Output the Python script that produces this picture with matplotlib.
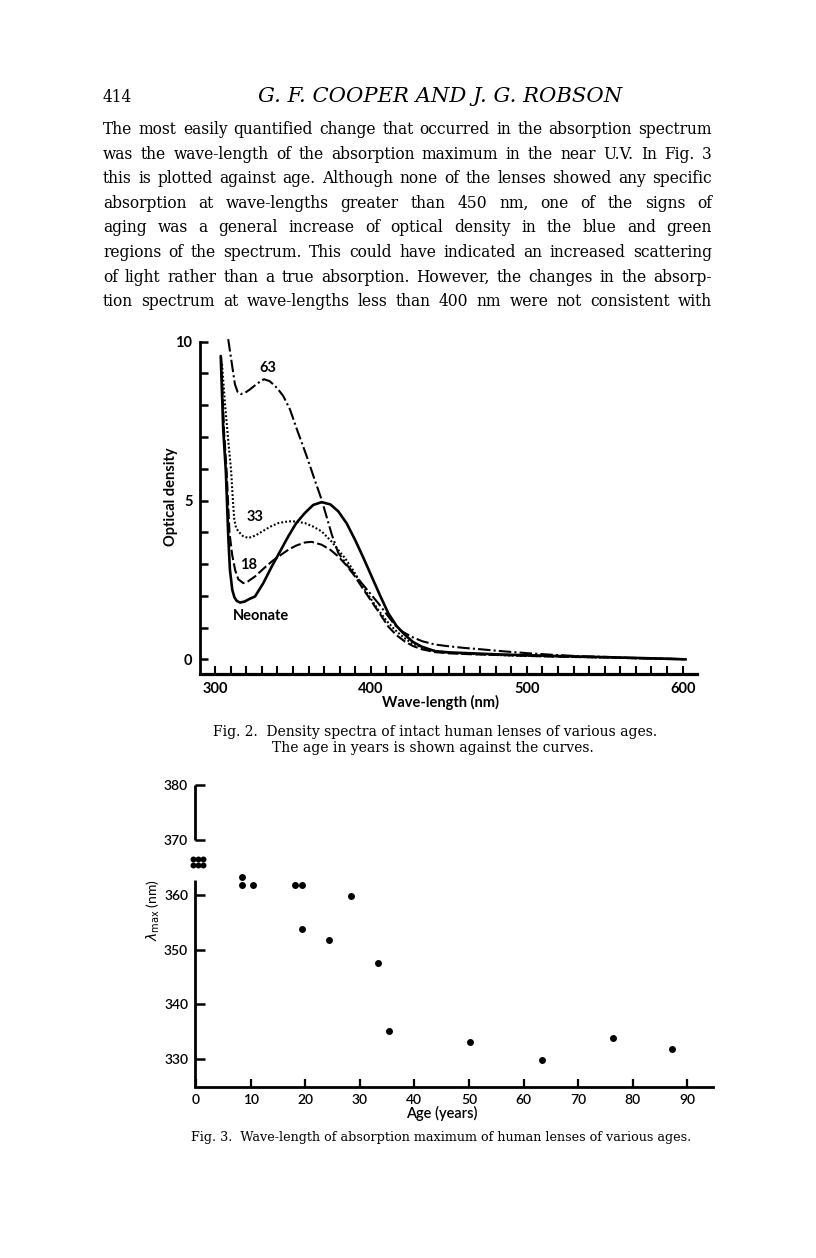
import matplotlib
matplotlib.use("Agg")
import matplotlib.pyplot as plt
from matplotlib.ticker import MultipleLocator, FixedLocator

# ---------------- data ----------------
# Fig. 2: density spectra (wave-length nm, optical density)
neonate_x = [303.7, 305.3, 307.0, 308.5, 309.6, 311.1, 312.5, 314.0, 316.0, 319.0, 322.0, 325.7, 331.0,
             336.4, 342.0, 347.0, 352.0, 357.7, 363.0, 368.4, 374.0, 379.1, 384.5, 389.8, 395.0, 400.5,
             406.0, 411.2, 416.5, 421.9, 427.0, 432.6, 441.0, 450.0, 465.0, 480.0, 500.0, 525.0, 550.0,
             575.0, 602.0]
neonate_y = [9.55, 7.24, 5.90, 3.90, 2.82, 2.19, 1.95, 1.84, 1.79, 1.82, 1.90, 1.98, 2.40,
             2.92, 3.42, 3.87, 4.28, 4.61, 4.86, 4.95, 4.88, 4.66, 4.28, 3.77, 3.22, 2.61,
             2.00, 1.45, 1.05, 0.77, 0.55, 0.40, 0.26, 0.22, 0.19, 0.16, 0.13, 0.10, 0.07,
             0.04, 0.00]

age18_x = [304.0, 305.8, 307.5, 309.3, 311.0, 313.0, 315.0, 318.2, 321.0, 325.7, 331.0, 336.4, 342.0,
           347.0, 352.0, 357.7, 362.0, 368.4, 374.0, 379.1, 384.5, 389.8, 395.0, 400.5, 406.0, 411.2,
           416.5, 421.9, 427.0, 432.6, 441.0, 450.0, 465.0, 480.0, 500.0, 525.0, 550.0, 575.0, 602.0]
age18_y = [9.50, 7.20, 5.90, 4.00, 3.30, 2.80, 2.52, 2.40, 2.45, 2.61, 2.85, 3.08, 3.28,
           3.45, 3.58, 3.68, 3.70, 3.61, 3.45, 3.24, 2.95, 2.61, 2.22, 1.82, 1.42, 1.03,
           0.76, 0.56, 0.42, 0.32, 0.23, 0.19, 0.16, 0.14, 0.11, 0.08, 0.06, 0.03, 0.01]

age33_x = [304.5, 306.5, 308.5, 310.3, 311.5, 312.4, 313.5, 315.0, 318.0, 321.4, 326.0, 332.1, 336.0,
           340.6, 345.0, 349.2, 353.0, 357.7, 363.0, 368.4, 374.8, 379.0, 383.4, 389.0, 394.1, 399.5,
           404.7, 410.0, 415.4, 421.0, 426.2, 433.0, 441.0, 450.0, 465.0, 480.0, 500.0, 525.0, 550.0,
           575.0, 602.0]
age33_y = [9.30, 8.00, 6.90, 5.98, 5.00, 4.40, 4.15, 4.03, 3.88, 3.82, 3.90, 4.08, 4.19,
           4.29, 4.33, 4.35, 4.33, 4.29, 4.18, 4.03, 3.71, 3.45, 3.19, 2.78, 2.35, 1.94,
           1.56, 1.22, 0.93, 0.69, 0.51, 0.37, 0.27, 0.21, 0.17, 0.14, 0.11, 0.08, 0.06,
           0.03, 0.01]

age63_x = [308.5, 310.7, 312.8, 314.5, 316.5, 319.5, 322.5, 327.0, 331.4, 335.0, 338.5, 341.0, 343.8,
           348.1, 353.0, 358.8, 363.5, 368.4, 374.8, 379.1, 385.5, 394.1, 404.7, 415.4, 420.0, 426.2,
           433.0, 441.0, 448.6, 460.0, 470.0, 486.0, 502.0, 518.0, 534.0, 550.0, 566.0, 584.0, 602.5]
age63_y = [10.08, 9.35, 8.66, 8.42, 8.35, 8.40, 8.50, 8.68, 8.82, 8.76, 8.61, 8.47, 8.29,
           7.87, 7.18, 6.40, 5.72, 5.03, 3.95, 3.35, 2.92, 2.40, 1.77, 1.08, 0.88, 0.71,
           0.57, 0.47, 0.42, 0.36, 0.32, 0.25, 0.19, 0.14, 0.10, 0.08, 0.05, 0.03, 0.00]

curve_labels = ["63", "33", "18", "Neonate"]
curve_label_x = [334.2, 325.7, 321.4, 329.5]
curve_label_y = [9.16, 4.47, 2.98, 1.35]

fig2_xticks = [300, 400, 500, 600]
fig2_yticks = [0, 5, 10]

# Fig. 3: wave-length of absorption maximum vs age
neonate_ages = [-0.6, 0.3, 1.2, -0.6, 0.3, 1.2]
neonate_lmax = [366.5, 366.5, 366.5, 365.4, 365.4, 365.4]
ages = [8.5, 8.5, 10.4, 18.2, 19.4, 19.4, 24.3, 28.4, 33.3, 35.3, 50.1, 63.3, 76.3, 87.2]
lmax = [363.2, 361.8, 361.8, 361.8, 361.7, 353.8, 351.7, 359.8, 347.5, 335.2, 333.2, 329.9, 333.9, 331.8]

fig3_xticks = [0, 10, 20, 30, 40, 50, 60, 70, 80, 90]
fig3_yticks = [330, 340, 350, 360, 370, 380]

body_lines = [
    "The most easily quantified change that occurred in the absorption spectrum",
    "was the wave-length of the absorption maximum in the near U.V. In Fig. 3",
    "this is plotted against age. Although none of the lenses showed any specific",
    "absorption at wave-lengths greater than 450 nm, one of the signs of",
    "aging was a general increase of optical density in the blue and green",
    "regions of the spectrum. This could have indicated an increased scattering",
    "of light rather than a true absorption. However, the changes in the absorp-",
    "tion spectrum at wave-lengths less than 400 nm were not consistent with",
]
page_number = "414"
running_head = "G. F. COOPER AND J. G. ROBSON"
fig2_caption = ["Fig. 2.  Density spectra of intact human lenses of various ages.",
                "The age in years is shown against the curves."]
fig3_caption = "Fig. 3.  Wave-length of absorption maximum of human lenses of various ages."

# ---------------- layout ----------------
W, H = 816, 1258
plt.rcParams['font.family'] = ['Lato', 'DejaVu Sans']
fig = plt.figure(figsize=(W / 100, H / 100), dpi=100)
fig.patch.set_facecolor('white')
renderer = fig.canvas.get_renderer()
SERIF = ['DejaVu Serif']


def fx(px):
    return px / W


def fy(py):
    return 1 - py / H


def measure(s, size, **kw):
    t = fig.text(0, 0, s, fontsize=size, **kw)
    w = t.get_window_extent(renderer=renderer).width
    t.remove()
    return w


def justify(line, x0, x1, base, size, **kw):
    words = line.split()
    ws = [measure(w, size, **kw) for w in words]
    gap = (x1 - x0 - sum(ws)) / (len(words) - 1)
    x = x0
    for w, wd in zip(words, ws):
        fig.text(fx(x), fy(base), w, fontsize=size, ha='left', va='baseline', **kw)
        x += wd + gap


# body text
body_size = 10 * 603 / measure(body_lines[0], 10, family=SERIF)
for i, line in enumerate(body_lines):
    justify(line, 103, 712, 134 + i * 24.6, body_size, family=SERIF)

# running head
fig.text(fx(103), fy(102), page_number, fontsize=body_size, family=SERIF, ha='left', va='baseline')
head_size = 10 * 363 / measure(running_head, 10, family=SERIF, style='italic')
fig.text(fx(440), fy(102), running_head, fontsize=head_size, family=SERIF, style='italic',
         ha='center', va='baseline')

# captions
cap_size = 10 * 444 / measure(fig2_caption[0], 10, family=SERIF)
fig.text(fx(435), fy(736), fig2_caption[0], fontsize=cap_size, family=SERIF, ha='center', va='baseline')
fig.text(fx(432.5), fy(752), fig2_caption[1], fontsize=cap_size, family=SERIF, ha='center', va='baseline')
cap3_size = 10 * 503 / measure(fig3_caption, 10, family=SERIF)
fig.text(fx(441), fy(1141), fig3_caption, fontsize=cap3_size, family=SERIF, ha='center', va='baseline')

# ---------------- Fig. 2 ----------------
ax2 = fig.add_axes([fx(200), fy(674), (697 - 200) / W, (674 - 341.7) / H])
ax2.set_xlim(290.4, 609.2)
ax2.set_ylim(-0.46, 10.0)
ax2.patch.set_alpha(0)
for s in ['top', 'right']:
    ax2.spines[s].set_visible(False)
ax2.spines['left'].set_linewidth(2.0)
ax2.spines['bottom'].set_linewidth(2.3)

ax2.plot(neonate_x, neonate_y, color='black', lw=1.9, clip_on=False, solid_capstyle='round')
ax2.plot(age18_x, age18_y, color='black', lw=1.5, ls=(0, (5, 1.6)), clip_on=False)
ax2.plot(age33_x, age33_y, color='black', lw=1.5, ls=(0, (0.9, 1.0)), clip_on=False)
ax2.plot(age63_x, age63_y, color='black', lw=1.5, ls=(0, (6, 1.5, 1, 1.5)), clip_on=False)
for lab, lx, ly in zip(curve_labels, curve_label_x, curve_label_y):
    ax2.text(lx, ly, lab, fontsize=10.5, fontweight='bold', ha='center', va='center')

ax2.xaxis.set_major_locator(FixedLocator(fig2_xticks))
ax2.xaxis.set_minor_locator(MultipleLocator(10))
ax2.yaxis.set_major_locator(FixedLocator(fig2_yticks))
ax2.yaxis.set_minor_locator(MultipleLocator(1))
ax2.tick_params(axis='x', which='both', direction='in', length=5.5, width=1.5, pad=6)
ax2.tick_params(axis='y', which='both', direction='in', length=6, width=1.8, pad=5.5)
ax2.tick_params(labelsize=10.5)
for t in ax2.get_xticklabels() + ax2.get_yticklabels():
    t.set_fontweight('bold')

fig.text(fx(171), fy(497), "Optical density", rotation=90, fontsize=10.5, fontweight='bold',
         ha='center', va='center')
fig.text(fx(440), fy(702), "Wave-length (nm)", fontsize=10.5, fontweight='bold',
         ha='center', va='center')

# ---------------- Fig. 3 ----------------
ax3 = fig.add_axes([fx(195), fy(1087), (713 - 195) / W, (1087 - 785) / H])
ax3.set_xlim(-0.18, 94.7)
ax3.set_ylim(324.95, 380)
ax3.patch.set_alpha(0)
for s in ['top', 'right', 'left']:
    ax3.spines[s].set_visible(False)
ax3.spines['bottom'].set_linewidth(2.0)
ytr = ax3.get_yaxis_transform()
ax3.plot([0, 0], [370, 380], color='black', lw=2.0, transform=ytr, clip_on=False, solid_capstyle='butt')
ax3.plot([0, 0], [324.95, 362.6], color='black', lw=2.0, transform=ytr, clip_on=False, solid_capstyle='butt')

ax3.plot(neonate_ages, neonate_lmax, 'o', color='black', ms=4.3, mew=0, clip_on=False)
ax3.plot(ages, lmax, 'o', color='black', ms=5.0, mew=0, clip_on=False)

ax3.xaxis.set_major_locator(FixedLocator(fig3_xticks))
ax3.yaxis.set_major_locator(FixedLocator(fig3_yticks))
ax3.tick_params(axis='x', direction='in', length=5.5, width=1.6, pad=5)
ax3.tick_params(axis='y', direction='in', length=7, width=1.8, pad=5)
ax3.tick_params(labelsize=10)
for t in ax3.get_xticklabels() + ax3.get_yticklabels():
    t.set_fontweight('semibold')

fig.text(fx(153), fy(910), r"$\lambda_{\rm max}$ (nm)", rotation=90, fontsize=10,
         ha='center', va='center')
fig.text(fx(442), fy(1113), "Age (years)", fontsize=10.5, fontweight='semibold',
         ha='center', va='center')

fig.savefig("out.png", dpi=100, facecolor='white')
